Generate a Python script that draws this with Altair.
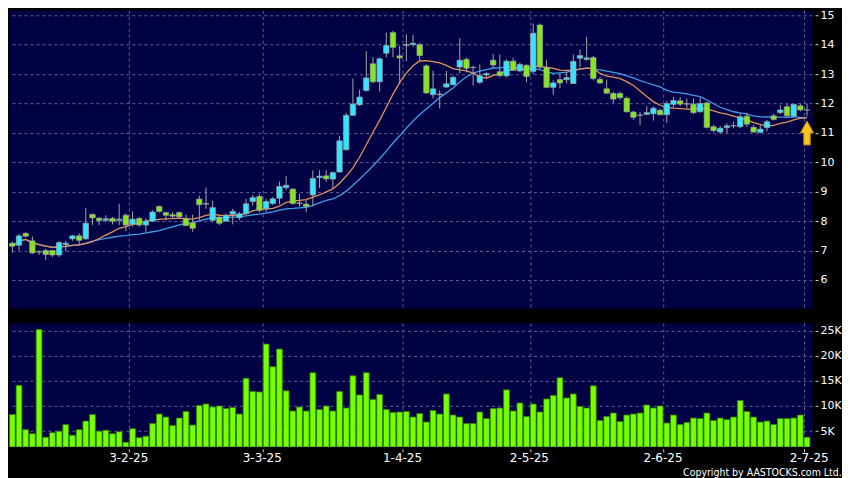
import altair as alt
import pandas as pd

# ---- data (one entry per trading day) ----
opens = [7.25, 7.18, 7.58, 7.33, 6.95, 7.00, 7.00, 6.85, 7.20, 7.40,
         7.50, 7.40, 8.23, 8.10, 8.03, 8.09, 8.03, 8.20, 7.89, 8.09,
         7.87, 8.00, 8.50, 8.29, 8.22, 8.29, 8.09, 7.94, 8.75, 8.58,
         8.03, 8.13, 8.00, 8.24, 8.12, 8.26, 8.67, 8.84, 8.42, 8.60,
         8.78, 9.14, 9.09, 8.60, 8.58, 8.89, 9.48, 9.54, 9.43, 9.67,
         10.43, 11.60, 11.96, 12.44, 13.35, 12.74, 13.71, 14.41, 13.62, 13.98,
         14.00, 14.00, 13.28, 12.30, 12.30, 12.56, 12.64, 13.24, 13.50, 13.22,
         12.72, 12.97, 13.47, 13.08, 12.94, 13.44, 13.11, 13.30, 13.09, 14.67,
         13.23, 12.55, 12.81, 12.81, 12.68, 13.54, 13.50, 13.56, 12.82, 12.50,
         12.34, 12.34, 12.18, 11.71, 11.60, 11.63, 11.65, 11.77, 11.62, 11.97,
         12.09, 11.98, 11.98, 11.72, 12.02, 11.21, 11.03, 11.18, 11.24, 11.21,
         11.57, 11.19, 11.02, 11.18, 11.58, 11.69, 11.89, 11.57, 11.92, 11.78]
highs = [7.31, 7.56, 7.64, 7.48, 7.01, 7.06, 7.02, 7.33, 7.33, 7.53,
         7.59, 8.44, 8.25, 8.14, 8.20, 8.14, 8.59, 8.26, 8.33, 8.14,
         8.09, 8.37, 8.53, 8.31, 8.31, 8.33, 8.22, 8.22, 8.87, 9.14,
         8.70, 8.20, 8.26, 8.42, 8.31, 8.76, 8.89, 8.92, 8.76, 8.82,
         9.35, 9.54, 9.11, 8.94, 8.72, 9.73, 9.73, 9.73, 9.69, 10.90,
         11.68, 12.85, 12.47, 13.78, 13.57, 13.57, 14.41, 14.47, 13.97, 14.36,
         14.33, 14.06, 13.33, 13.11, 12.45, 13.11, 12.94, 14.22, 13.56, 13.28,
         13.33, 13.06, 13.69, 13.67, 13.50, 13.56, 13.39, 13.33, 14.72, 14.72,
         13.47, 12.79, 13.01, 13.07, 13.67, 13.84, 14.27, 13.62, 12.90, 12.81,
         12.40, 12.40, 12.24, 11.75, 11.71, 11.91, 11.90, 11.82, 12.08, 12.22,
         12.22, 12.17, 12.17, 12.20, 12.06, 11.27, 11.24, 11.33, 11.38, 11.66,
         11.69, 11.27, 11.27, 11.44, 11.64, 11.94, 11.98, 11.98, 12.00, 12.00]
lows = [6.93, 7.00, 7.45, 6.89, 6.85, 6.68, 6.78, 6.78, 6.98, 7.33,
        7.20, 7.36, 7.87, 7.87, 7.98, 7.89, 7.87, 7.67, 7.81, 7.81,
        7.64, 7.98, 8.29, 8.03, 8.09, 8.07, 7.83, 7.64, 8.03, 8.42,
        7.98, 7.87, 7.98, 7.89, 8.03, 8.20, 8.53, 8.31, 8.31, 8.55,
        8.57, 9.06, 8.56, 8.50, 8.30, 8.50, 9.12, 9.34, 9.12, 9.65,
        10.40, 11.58, 11.92, 12.41, 12.69, 12.41, 13.57, 13.57, 12.68, 13.44,
        13.94, 13.44, 12.33, 12.17, 11.83, 12.53, 12.61, 13.02, 13.06, 12.61,
        12.67, 12.89, 13.22, 12.89, 12.89, 13.11, 13.06, 12.72, 13.00, 13.17,
        12.52, 12.30, 12.52, 12.68, 12.66, 13.24, 13.45, 12.79, 12.66, 12.33,
        12.02, 12.13, 11.69, 11.45, 11.27, 11.60, 11.42, 11.60, 11.35, 11.87,
        11.91, 11.83, 11.64, 11.69, 11.15, 11.02, 10.99, 10.99, 11.16, 11.16,
        11.21, 11.01, 10.99, 11.06, 11.42, 11.64, 11.55, 11.55, 11.73, 11.58]
closes = [7.15, 7.50, 7.49, 6.92, 6.96, 6.87, 6.85, 7.27, 7.25, 7.50,
          7.35, 7.93, 8.11, 8.02, 8.08, 8.00, 8.07, 7.87, 8.07, 7.87,
          8.00, 8.31, 8.33, 8.20, 8.17, 8.15, 7.85, 7.76, 8.56, 8.60,
          8.46, 7.93, 8.20, 8.33, 8.25, 8.59, 8.80, 8.37, 8.67, 8.76,
          9.18, 9.22, 8.60, 8.62, 8.50, 9.45, 9.53, 9.44, 9.65, 10.73,
          11.60, 11.98, 12.22, 12.87, 12.74, 13.52, 13.97, 13.91, 13.55, 14.00,
          14.05, 13.63, 12.36, 12.50, 12.32, 12.67, 12.89, 13.47, 13.20, 13.23,
          12.94, 13.02, 13.31, 12.95, 13.44, 13.13, 13.33, 12.92, 14.39, 13.24,
          12.55, 12.70, 12.70, 12.88, 13.43, 13.63, 13.55, 12.85, 12.70, 12.35,
          12.15, 12.20, 11.72, 11.53, 11.61, 11.69, 11.84, 11.62, 12.00, 12.10,
          11.98, 11.99, 11.69, 12.00, 11.19, 11.08, 11.16, 11.24, 11.25, 11.55,
          11.30, 11.03, 11.13, 11.38, 11.46, 11.78, 11.58, 11.97, 11.78, 11.78]
volumes = [8300, 14100, 5300, 4500, 25200, 3800, 4700, 5000, 6300, 4200,
           5300, 7000, 8300, 5000, 5200, 4500, 4900, 2800, 5500, 3700,
           4000, 6500, 8400, 7800, 6100, 7600, 8900, 6200, 10100, 10400,
           9800, 10000, 9500, 9700, 8400, 15500, 12900, 12800, 22300, 17800,
           21300, 13000, 9000, 9800, 9000, 16600, 9300, 10000, 9000, 12900,
           9600, 16000, 12200, 16600, 11300, 12300, 9300, 8700, 8800, 8900,
           7800, 8500, 6800, 9100, 8400, 12400, 8200, 7800, 6500, 6500,
           8800, 7500, 9500, 9600, 13200, 9000, 10600, 7900, 10400, 8800,
           11400, 12100, 15600, 11600, 12400, 9900, 9600, 14000, 7100, 7900,
           8600, 6900, 8200, 8400, 8600, 10200, 9600, 10000, 6600, 8200,
           6300, 6700, 7600, 7500, 8600, 7100, 7600, 7300, 7800, 11100,
           8900, 7800, 6800, 7000, 6300, 7500, 7500, 7600, 8200, 3800]

# month-start trading days (index into the arrays) and their labels
tick_index = [18, 38, 59, 78, 98, 119]
tick_labels = ["3-2-25", "3-3-25", "1-4-25", "2-5-25", "2-6-25", "2-7-25"]
price_ticks = [6, 7, 8, 9, 10, 11, 12, 13, 14, 15]
volume_ticks = [5000, 10000, 15000, 20000, 25000]
marker_index = [119]
marker_price = [11.0]

# ---- styling ----
NAVY = "#000044"
CYAN = "#33e5ff"
LIME = "#84e61e"
VOL_FILL = "#77ff00"
GRID = "#5f5f99"
FONT = "DejaVu Sans"

df = pd.DataFrame({
    "i": list(range(len(closes))),
    "open": opens, "high": highs, "low": lows, "close": closes,
    "volume": volumes,
})
marks_df = pd.DataFrame({"i": marker_index, "p": marker_price})

grid_vals = [t - 0.5 for t in tick_index]
label_expr = " : ".join(
    f"datum.value == {v} ? '{l}'" for v, l in zip(grid_vals, tick_labels)
) + " : ''"

x_scale = alt.Scale(domain=[-0.5, 119.75], nice=False, zero=False, padding=0)
p_scale = alt.Scale(domain=[5.05, 15.17], nice=False, zero=False)
v_scale = alt.Scale(domain=[1900, 26500], nice=False, zero=False)

x_price_axis = alt.Axis(values=grid_vals, labels=False, ticks=False,
                        domain=False, grid=True, title=None)
y_price_axis = alt.Axis(orient="right", values=price_ticks, title=None,
                        offset=3, tickSize=3, labelPadding=2, domain=False,
                        grid=True)


def px():
    return alt.X("i:Q", scale=x_scale, axis=x_price_axis, title=None)


def py(field):
    return alt.Y(field, scale=p_scale, axis=y_price_axis, title=None)


base = alt.Chart(df)

wicks = base.mark_rule(color="#a6a6a6", strokeWidth=1).encode(
    x=px(), y=py("low:Q"), y2="high:Q"
)

bodies = base.transform_calculate(
    dir="abs(datum.close - datum.open) < 0.025 ? 'flat' : (datum.close > datum.open ? 'up' : 'down')"
).mark_bar(size=5.4, stroke="#a0a0a0", strokeWidth=0.7).encode(
    x=px(), y=py("open:Q"), y2="close:Q",
    color=alt.Color("dir:N", legend=None,
                    scale=alt.Scale(domain=["up", "down", "flat"],
                                    range=[CYAN, LIME, "#b8b8b8"])),
)

ma = base.transform_window(
    ma10="mean(close)", frame=[-9, 0], sort=[alt.SortField("i")]
).transform_window(
    ma20="mean(close)", frame=[-19, 0], sort=[alt.SortField("i")]
)
ma10 = ma.mark_line(color="#e39157", strokeWidth=1.3).encode(x=px(), y=py("ma10:Q"))
ma20 = ma.mark_line(color="#3d9fe6", strokeWidth=1.3).encode(x=px(), y=py("ma20:Q"))

ARROW = "M0,-1L0.55,0L0.27,0L0.27,1L-0.27,1L-0.27,0L-0.55,0Z"
arrow = alt.Chart(marks_df).mark_point(
    shape=ARROW, size=576, filled=True, fill="#f6c61c", stroke="#b8860b",
    strokeWidth=1, opacity=1
).encode(x=px(), y=py("p:Q"))

price = alt.layer(ma20, ma10, wicks, bodies, arrow).properties(width=804, height=298)

volume = base.mark_bar(size=5.8, color=VOL_FILL, stroke="#2f8000",
                       strokeWidth=0.8, clip=True).encode(
    x=alt.X("i:Q", scale=x_scale, title=None,
            axis=alt.Axis(values=grid_vals, labelExpr=label_expr, orient="bottom",
                          tickSize=3, offset=2, labelPadding=1, domain=False,
                          grid=True, title=None, labelFlush=False,
                          labelFontSize=12, labelOverlap=False,
                          labelOffset=alt.ExprRef("datum.value > 118 ? 5 : -1"))),
    y=alt.Y("volume:Q", scale=v_scale, title=None,
            axis=alt.Axis(orient="right", values=volume_ticks, title=None,
                          labelExpr="datum.value / 1000 + 'K'", offset=3,
                          tickSize=3, labelPadding=2, domain=False, grid=True)),
).properties(width=804, height=124)

chart = alt.vconcat(price, volume, spacing=13).resolve_scale(
    x="independent", y="independent"
).properties(
    background="black",
    padding=0,
    title=alt.TitleParams(
        "Copyright by AASTOCKS.com Ltd.", orient="bottom", anchor="end",
        font="DejaVu Sans Condensed, DejaVu Sans", fontSize=10.5,
        fontWeight="normal", color="white", offset=4,
    ),
).configure_view(
    fill=NAVY, stroke="transparent"
).configure_axis(
    gridColor=GRID, gridDash=[3, 3], gridWidth=1, gridOpacity=1,
    labelColor="white", labelFont=FONT, labelFontSize=11,
    tickColor="#d0d0d0", tickWidth=1,
)

chart.save("out.html", embed_options={"renderer": "svg", "actions": False})
